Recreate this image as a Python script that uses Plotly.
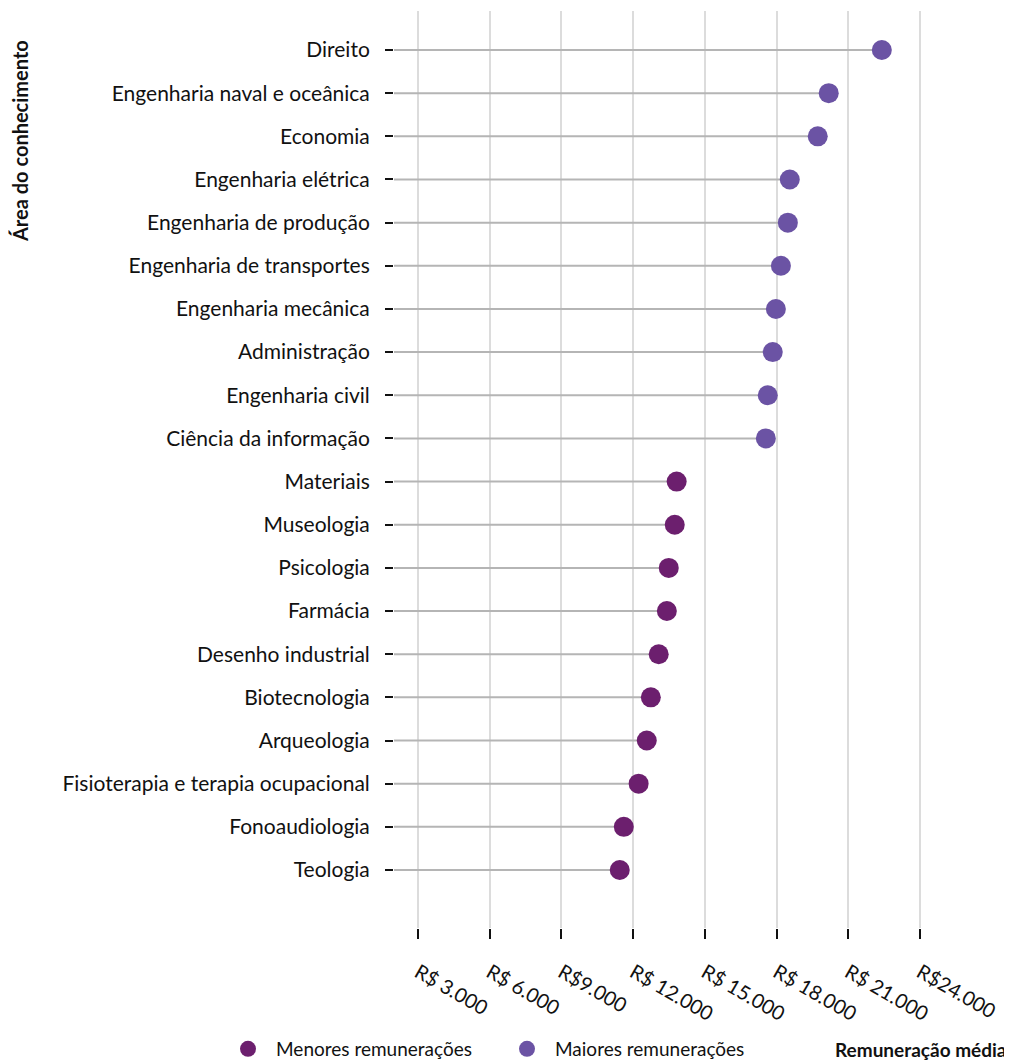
import plotly.graph_objects as go

categories = [
    "Direito", "Engenharia naval e oceânica", "Economia", "Engenharia elétrica",
    "Engenharia de produção", "Engenharia de transportes", "Engenharia mecânica",
    "Administração", "Engenharia civil", "Ciência da informação",
    "Materiais", "Museologia", "Psicologia", "Farmácia", "Desenho industrial",
    "Biotecnologia", "Arqueologia", "Fisioterapia e terapia ocupacional",
    "Fonoaudiologia", "Teologia",
]
values = [22400, 20180, 19720, 18550, 18470, 18180, 17970, 17840, 17630, 17550,
          13820, 13740, 13490, 13410, 13070, 12740, 12570, 12230, 11610, 11440]
groups = ["Maiores"] * 10 + ["Menores"] * 10

tick_vals = [3000, 6000, 9000, 12000, 15000, 18000, 21000, 24000]
tick_text = ["R$ 3.000", "R$ 6.000", "R$9.000", "R$ 12.000", "R$ 15.000",
             "R$ 18.000", "R$ 21.000", "R$24.000"]

X_MIN, X_MAX = 2000, 25000
FONT = "Lato"
C_MENOR = "#6c1f6e"
C_MAIOR = "#6b53a4"

# page body adds an 8px margin; size the figure so it fits the window
OFF = 8
W, H = 1012 - OFF, 1061 - OFF
L, R, T, B = 394 - OFF, 68, 11 - OFF, 133

n = len(categories)
ypos = [n - 1 - i for i in range(n)]  # Direito at top

fig = go.Figure()

# stems
lx, ly = [], []
for v, y in zip(values, ypos):
    lx += [X_MIN, v, None]
    ly += [y, y, None]
fig.add_trace(go.Scatter(x=lx, y=ly, mode="lines",
                         line=dict(color="#b5b5b5", width=2),
                         showlegend=False, hoverinfo="skip"))

for name, label, color in [("Menores", "Menores remunerações", C_MENOR),
                           ("Maiores", "Maiores remunerações", C_MAIOR)]:
    xs = [v for v, g in zip(values, groups) if g == name]
    ys = [y for y, g in zip(ypos, groups) if g == name]
    fig.add_trace(go.Scatter(x=xs, y=ys, mode="markers", name=label,
                             marker=dict(size=20, color=color)))

pw, ph = W - L - R, H - T - B


def px(x):
    return (x - OFF - L) / pw


def py(y):
    return (H - B - (y - OFF)) / ph


fig.update_layout(
    width=W, height=H,
    margin=dict(l=L, r=R, t=T, b=B, autoexpand=False),
    plot_bgcolor="white", paper_bgcolor="white",
    font=dict(family=FONT, size=20, color="#111"),
    xaxis=dict(range=[X_MIN, X_MAX], tickvals=tick_vals, ticktext=tick_text,
               tickangle=30, showgrid=True, gridcolor="#dcdcdc", gridwidth=2,
               zeroline=False, showline=False, ticks="outside", ticklen=10,
               tickwidth=2, tickcolor="#111", ticklabelstandoff=14,
               tickfont=dict(size=20, family=FONT), automargin=False),
    yaxis=dict(range=[-1.344, 19.904], tickvals=ypos, ticktext=categories,
               showgrid=False, zeroline=False, showline=False,
               ticks="outside", ticklen=8, tickwidth=2, tickcolor="#111",
               ticklabelstandoff=11, tickfont=dict(size=21, family=FONT),
               automargin=False),
    legend=dict(orientation="h", x=px(220), xanchor="left", y=py(1049),
                yanchor="middle", yref="paper", font=dict(size=19, family=FONT),
                itemsizing="trace", itemwidth=46, entrywidth=218,
                entrywidthmode="pixels"),
    annotations=[
        dict(text="<b>Área do conhecimento</b>", textangle=-90, x=px(20), y=py(141),
             xref="paper", yref="paper", showarrow=False,
             xanchor="center", yanchor="middle",
             font=dict(size=20, family=FONT)),
        dict(text="<b>Remuneração média</b>", x=px(1009), y=py(1049),
             xref="paper", yref="paper", showarrow=False,
             xanchor="right", yanchor="middle",
             font=dict(size=19, family=FONT)),
    ],
)

fig.write_html("out.html")
